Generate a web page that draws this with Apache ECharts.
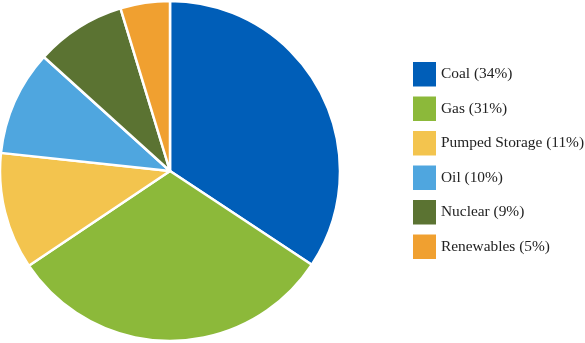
<!DOCTYPE html>
<html><head><meta charset="utf-8">
<script src="https://cdn.jsdelivr.net/npm/echarts@6/dist/echarts.min.js"></script>
<style>html,body{margin:0;padding:0;background:#fff;}#c{width:585px;height:343px;}</style>
</head><body><div id="c"></div>
<script>
const categories = ['Coal', 'Gas', 'Pumped Storage', 'Oil', 'Nuclear', 'Renewables'];
const values = [34.3, 31.3, 11.1, 10.0, 8.6, 4.7];
const legendPercents = [34, 31, 11, 10, 9, 5];
const colors = ['#005EB8', '#8CB93A', '#F3C44E', '#4FA6DF', '#5B7332', '#F0A030'];
const chart = echarts.init(document.getElementById('c'), null, { renderer: 'canvas' });
chart.setOption({
  animation: false,
  color: colors,
  legend: {
    orient: 'vertical', left: 413, top: 62, padding: 0,
    itemWidth: 23, itemHeight: 24.5, itemGap: 10,
    icon: 'rect',
    itemStyle: { borderWidth: 0 },
    formatter: name => name + ' (' + legendPercents[categories.indexOf(name)] + '%)',
    textStyle: { fontFamily: '"Liberation Serif", "Times New Roman", serif', fontSize: 15.4, color: '#222' }
  },
  series: [{
    type: 'pie', center: [170, 171], radius: [0, 170],
    startAngle: 90, clockwise: true,
    label: { show: false }, labelLine: { show: false },
    itemStyle: { borderColor: '#fff', borderWidth: 2.5 },
    emphasis: { disabled: true },
    data: categories.map((c, i) => ({ name: c, value: values[i] }))
  }]
});
</script></body></html>
